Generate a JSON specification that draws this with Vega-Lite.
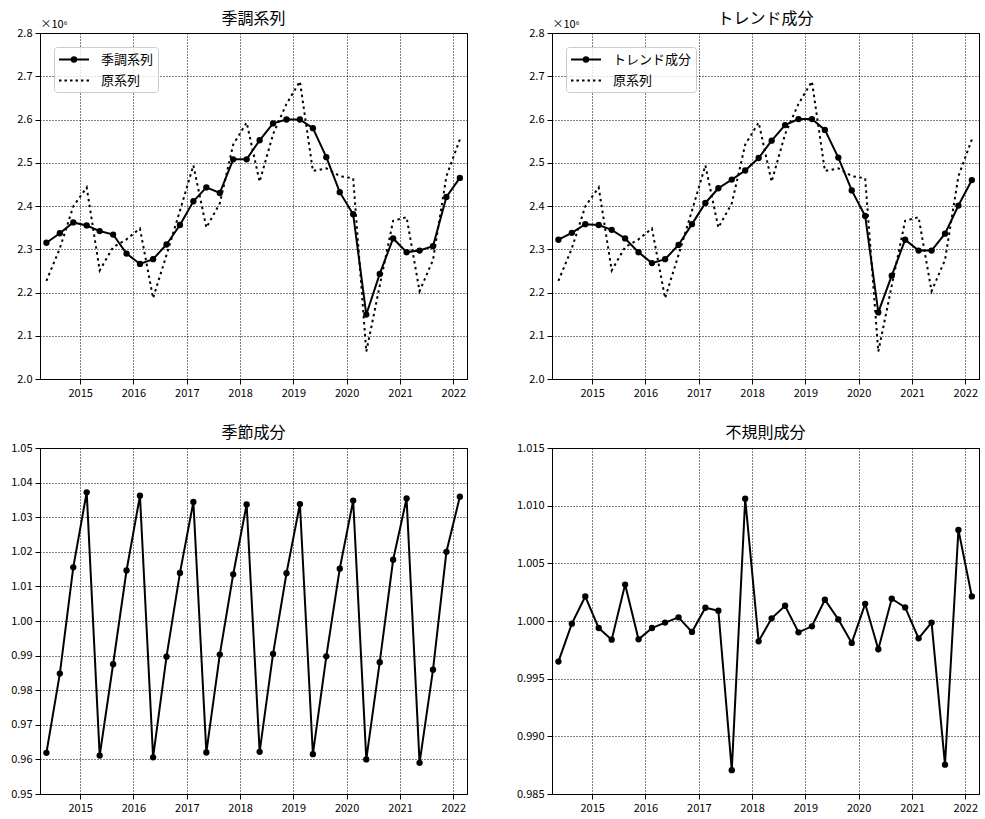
{
  "$schema": "https://vega.github.io/schema/vega-lite/v6.json",
  "background": "white",
  "padding": {"left": 10, "top": 10, "right": 5, "bottom": 5},
  "data": {"values": [
    {"date":"2014-05-15","sa":2315000,"orig":2227000,"trend":2322000,"seasonal":0.9619,"irregular":0.99648},
    {"date":"2014-08-15","sa":2337000,"orig":2302000,"trend":2338000,"seasonal":0.9848,"irregular":0.99977},
    {"date":"2014-11-15","sa":2362000,"orig":2399000,"trend":2358000,"seasonal":1.0155,"irregular":1.00213},
    {"date":"2015-02-15","sa":2355000,"orig":2443000,"trend":2356000,"seasonal":1.0372,"irregular":0.99939},
    {"date":"2015-05-15","sa":2342000,"orig":2251000,"trend":2345000,"seasonal":0.9611,"irregular":0.99838},
    {"date":"2015-08-15","sa":2334000,"orig":2305000,"trend":2325000,"seasonal":0.9875,"irregular":1.00316},
    {"date":"2015-11-15","sa":2290000,"orig":2323000,"trend":2293000,"seasonal":1.0146,"irregular":0.99841},
    {"date":"2016-02-15","sa":2266000,"orig":2348000,"trend":2268000,"seasonal":1.0362,"irregular":0.99939},
    {"date":"2016-05-15","sa":2277000,"orig":2187000,"trend":2277000,"seasonal":0.9606,"irregular":0.99986},
    {"date":"2016-08-15","sa":2311000,"orig":2287000,"trend":2310000,"seasonal":0.9897,"irregular":1.00032},
    {"date":"2016-11-15","sa":2356000,"orig":2389000,"trend":2358000,"seasonal":1.0139,"irregular":0.99905},
    {"date":"2017-02-15","sa":2411000,"orig":2494000,"trend":2407000,"seasonal":1.0344,"irregular":1.00115},
    {"date":"2017-05-15","sa":2443000,"orig":2350000,"trend":2441000,"seasonal":0.9620,"irregular":1.00089},
    {"date":"2017-08-15","sa":2430000,"orig":2406000,"trend":2461000,"seasonal":0.9903,"irregular":0.98707},
    {"date":"2017-11-15","sa":2508000,"orig":2542000,"trend":2482000,"seasonal":1.0135,"irregular":1.01060},
    {"date":"2018-02-15","sa":2508000,"orig":2593000,"trend":2511000,"seasonal":1.0337,"irregular":0.99824},
    {"date":"2018-05-15","sa":2552000,"orig":2456000,"trend":2551000,"seasonal":0.9622,"irregular":1.00023},
    {"date":"2018-08-15","sa":2591000,"orig":2566000,"trend":2587000,"seasonal":0.9905,"irregular":1.00132},
    {"date":"2018-11-15","sa":2600000,"orig":2636000,"trend":2601000,"seasonal":1.0138,"irregular":0.99902},
    {"date":"2019-02-15","sa":2600000,"orig":2688000,"trend":2601000,"seasonal":1.0338,"irregular":0.99954},
    {"date":"2019-05-15","sa":2580000,"orig":2481000,"trend":2576000,"seasonal":0.9615,"irregular":1.00184},
    {"date":"2019-08-15","sa":2513000,"orig":2487000,"trend":2512000,"seasonal":0.9898,"irregular":1.00014},
    {"date":"2019-11-15","sa":2432000,"orig":2469000,"trend":2436000,"seasonal":1.0151,"irregular":0.99810},
    {"date":"2020-02-15","sa":2381000,"orig":2464000,"trend":2377000,"seasonal":1.0348,"irregular":1.00149},
    {"date":"2020-05-15","sa":2149000,"orig":2063000,"trend":2154000,"seasonal":0.9600,"irregular":0.99755},
    {"date":"2020-08-15","sa":2243000,"orig":2216000,"trend":2239000,"seasonal":0.9881,"irregular":1.00193},
    {"date":"2020-11-15","sa":2325000,"orig":2366000,"trend":2322000,"seasonal":1.0177,"irregular":1.00118},
    {"date":"2021-02-15","sa":2293000,"orig":2374000,"trend":2297000,"seasonal":1.0354,"irregular":0.99850},
    {"date":"2021-05-15","sa":2297000,"orig":2203000,"trend":2297000,"seasonal":0.9590,"irregular":0.99986},
    {"date":"2021-08-15","sa":2307000,"orig":2275000,"trend":2336000,"seasonal":0.9859,"irregular":0.98754},
    {"date":"2021-11-15","sa":2421000,"orig":2469000,"trend":2401000,"seasonal":1.0200,"irregular":1.00790},
    {"date":"2022-02-15","sa":2465000,"orig":2554000,"trend":2460000,"seasonal":1.0359,"irregular":1.00213}
  ]},
  "columns": 2,
  "spacing": {"row": 69, "column": 85},
  "bounds": "flush",
  "resolve": {"scale": {"shape": "independent"}, "legend": {"shape": "independent"}},
  "concat": [
    {
      "width": 427, "height": 346,
      "title": {"text": "季調系列", "offset": -9},
      "encoding": {
        "x": {"field": "date", "type": "temporal",
          "scale": {"type": "utc", "domain": [{"year": 2014, "month": 4, "date": 1, "utc": true}, {"year": 2022, "month": 4, "date": 5, "utc": true}]},
          "axis": {"title": null, "format": "%Y", "labelFlush": false, "values": [
            {"year": 2015, "month": 1, "date": 1, "utc": true}, {"year": 2016, "month": 1, "date": 1, "utc": true},
            {"year": 2017, "month": 1, "date": 1, "utc": true}, {"year": 2018, "month": 1, "date": 1, "utc": true},
            {"year": 2019, "month": 1, "date": 1, "utc": true}, {"year": 2020, "month": 1, "date": 1, "utc": true},
            {"year": 2021, "month": 1, "date": 1, "utc": true}, {"year": 2022, "month": 1, "date": 1, "utc": true}]}}
      },
      "layer": [
        {"mark": {"type": "line", "color": "black", "strokeWidth": 2, "strokeDash": [2.5, 3.5]},
         "encoding": {"y": {"field": "orig", "type": "quantitative",
           "scale": {"domain": [2000000, 2800000], "nice": false, "zero": false},
           "axis": {"values": [2000000, 2100000, 2200000, 2300000, 2400000, 2500000, 2600000, 2700000, 2800000], "labelExpr": "format(datum.value / 1000000, '.1f')", "title": "×10⁶", "titleAngle": 0, "titleX": 0, "titleY": -6, "titleAlign": "left", "titleBaseline": "alphabetic", "titleFontSize": 11, "titleFontWeight": "normal"}}}},
        {"mark": {"type": "line", "color": "black", "strokeWidth": 2, "point": {"filled": true, "size": 40, "color": "black", "opacity": 1}},
         "encoding": {"y": {"field": "sa", "type": "quantitative",
           "scale": {"domain": [2000000, 2800000], "nice": false, "zero": false},
           "axis": {"values": [2000000, 2100000, 2200000, 2300000, 2400000, 2500000, 2600000, 2700000, 2800000], "labelExpr": "format(datum.value / 1000000, '.1f')", "title": "×10⁶", "titleAngle": 0, "titleX": 0, "titleY": -6, "titleAlign": "left", "titleBaseline": "alphabetic", "titleFontSize": 11, "titleFontWeight": "normal"}}}},
        {"transform": [{"filter": "false"}],
         "mark": {"type": "point", "color": "black", "filled": false, "strokeWidth": 2, "size": 225, "opacity": 1},
         "encoding": {"shape": {"datum": "季調系列",
           "scale": {"domain": ["季調系列", "原系列"], "range": ["M-1,0H3M0.9,0A0.1,0.1 0 1,0 1.1,0A0.1,0.1 0 1,0 0.9,0M0.7,0A0.3,0.3 0 1,0 1.3,0A0.3,0.3 0 1,0 0.7,0", "M-1,0h0.33M-0.27,0h0.33M0.47,0h0.33M1.2,0h0.33M1.93,0h0.33M2.67,0h0.33"]},
           "legend": {"title": null, "orient": "top-left", "offset": 14, "symbolSize": 225, "symbolStrokeWidth": 2, "symbolStrokeColor": "black", "symbolOpacity": 1, "labelOffset": 26, "labelFontSize": 13, "padding": 4, "rowPadding": 5, "strokeColor": "#cccccc", "fillColor": "rgba(255,255,255,0.8)", "cornerRadius": 3}}}}
      ]
    },
    {
      "width": 427, "height": 346,
      "title": {"text": "トレンド成分", "offset": -9},
      "encoding": {
        "x": {"field": "date", "type": "temporal",
          "scale": {"type": "utc", "domain": [{"year": 2014, "month": 4, "date": 1, "utc": true}, {"year": 2022, "month": 4, "date": 5, "utc": true}]},
          "axis": {"title": null, "format": "%Y", "labelFlush": false, "values": [
            {"year": 2015, "month": 1, "date": 1, "utc": true}, {"year": 2016, "month": 1, "date": 1, "utc": true},
            {"year": 2017, "month": 1, "date": 1, "utc": true}, {"year": 2018, "month": 1, "date": 1, "utc": true},
            {"year": 2019, "month": 1, "date": 1, "utc": true}, {"year": 2020, "month": 1, "date": 1, "utc": true},
            {"year": 2021, "month": 1, "date": 1, "utc": true}, {"year": 2022, "month": 1, "date": 1, "utc": true}]}}
      },
      "layer": [
        {"mark": {"type": "line", "color": "black", "strokeWidth": 2, "strokeDash": [2.5, 3.5]},
         "encoding": {"y": {"field": "orig", "type": "quantitative",
           "scale": {"domain": [2000000, 2800000], "nice": false, "zero": false},
           "axis": {"values": [2000000, 2100000, 2200000, 2300000, 2400000, 2500000, 2600000, 2700000, 2800000], "labelExpr": "format(datum.value / 1000000, '.1f')", "title": "×10⁶", "titleAngle": 0, "titleX": 0, "titleY": -6, "titleAlign": "left", "titleBaseline": "alphabetic", "titleFontSize": 11, "titleFontWeight": "normal"}}}},
        {"mark": {"type": "line", "color": "black", "strokeWidth": 2, "point": {"filled": true, "size": 40, "color": "black", "opacity": 1}},
         "encoding": {"y": {"field": "trend", "type": "quantitative",
           "scale": {"domain": [2000000, 2800000], "nice": false, "zero": false},
           "axis": {"values": [2000000, 2100000, 2200000, 2300000, 2400000, 2500000, 2600000, 2700000, 2800000], "labelExpr": "format(datum.value / 1000000, '.1f')", "title": "×10⁶", "titleAngle": 0, "titleX": 0, "titleY": -6, "titleAlign": "left", "titleBaseline": "alphabetic", "titleFontSize": 11, "titleFontWeight": "normal"}}}},
        {"transform": [{"filter": "false"}],
         "mark": {"type": "point", "color": "black", "filled": false, "strokeWidth": 2, "size": 225, "opacity": 1},
         "encoding": {"shape": {"datum": "トレンド成分",
           "scale": {"domain": ["トレンド成分", "原系列"], "range": ["M-1,0H3M0.9,0A0.1,0.1 0 1,0 1.1,0A0.1,0.1 0 1,0 0.9,0M0.7,0A0.3,0.3 0 1,0 1.3,0A0.3,0.3 0 1,0 0.7,0", "M-1,0h0.33M-0.27,0h0.33M0.47,0h0.33M1.2,0h0.33M1.93,0h0.33M2.67,0h0.33"]},
           "legend": {"title": null, "orient": "top-left", "offset": 14, "symbolSize": 225, "symbolStrokeWidth": 2, "symbolStrokeColor": "black", "symbolOpacity": 1, "labelOffset": 26, "labelFontSize": 13, "padding": 4, "rowPadding": 5, "strokeColor": "#cccccc", "fillColor": "rgba(255,255,255,0.8)", "cornerRadius": 3}}}}
      ]
    },
    {
      "width": 427, "height": 346,
      "title": {"text": "季節成分", "offset": 1},
      "mark": {"type": "line", "color": "black", "strokeWidth": 2, "point": {"filled": true, "size": 40, "color": "black", "opacity": 1}},
      "encoding": {
        "x": {"field": "date", "type": "temporal",
          "scale": {"type": "utc", "domain": [{"year": 2014, "month": 4, "date": 1, "utc": true}, {"year": 2022, "month": 4, "date": 5, "utc": true}]},
          "axis": {"title": null, "format": "%Y", "labelFlush": false, "values": [
            {"year": 2015, "month": 1, "date": 1, "utc": true}, {"year": 2016, "month": 1, "date": 1, "utc": true},
            {"year": 2017, "month": 1, "date": 1, "utc": true}, {"year": 2018, "month": 1, "date": 1, "utc": true},
            {"year": 2019, "month": 1, "date": 1, "utc": true}, {"year": 2020, "month": 1, "date": 1, "utc": true},
            {"year": 2021, "month": 1, "date": 1, "utc": true}, {"year": 2022, "month": 1, "date": 1, "utc": true}]}},
        "y": {"field": "seasonal", "type": "quantitative",
          "scale": {"domain": [0.95, 1.05], "nice": false, "zero": false},
          "axis": {"title": null, "format": ".2f", "values": [0.95, 0.96, 0.97, 0.98, 0.99, 1.0, 1.01, 1.02, 1.03, 1.04, 1.05]}}
      }
    },
    {
      "width": 427, "height": 346,
      "title": {"text": "不規則成分", "offset": 1},
      "mark": {"type": "line", "color": "black", "strokeWidth": 2, "point": {"filled": true, "size": 40, "color": "black", "opacity": 1}},
      "encoding": {
        "x": {"field": "date", "type": "temporal",
          "scale": {"type": "utc", "domain": [{"year": 2014, "month": 4, "date": 1, "utc": true}, {"year": 2022, "month": 4, "date": 5, "utc": true}]},
          "axis": {"title": null, "format": "%Y", "labelFlush": false, "values": [
            {"year": 2015, "month": 1, "date": 1, "utc": true}, {"year": 2016, "month": 1, "date": 1, "utc": true},
            {"year": 2017, "month": 1, "date": 1, "utc": true}, {"year": 2018, "month": 1, "date": 1, "utc": true},
            {"year": 2019, "month": 1, "date": 1, "utc": true}, {"year": 2020, "month": 1, "date": 1, "utc": true},
            {"year": 2021, "month": 1, "date": 1, "utc": true}, {"year": 2022, "month": 1, "date": 1, "utc": true}]}},
        "y": {"field": "irregular", "type": "quantitative",
          "scale": {"domain": [0.985, 1.015], "nice": false, "zero": false},
          "axis": {"title": null, "format": ".3f", "values": [0.985, 0.99, 0.995, 1.0, 1.005, 1.01, 1.015]}}
      }
    }
  ],
  "config": {
    "font": "Noto Sans CJK JP",
    "view": {"stroke": "black", "strokeWidth": 1},
    "title": {"fontSize": 16, "fontWeight": "normal", "color": "black", "offset": 7, "anchor": "middle"},
    "axis": {"labelFontSize": 11, "labelColor": "black", "labelOverlap": false, "tickColor": "black", "tickSize": 5, "tickWidth": 1, "domainColor": "black", "domainWidth": 1, "gridColor": "black", "gridDash": [1, 2], "gridWidth": 1, "gridOpacity": 1, "labelPadding": 3, "titleColor": "black"},
    "legend": {"labelColor": "black", "labelFont": "Noto Sans CJK JP"}
  }
}
